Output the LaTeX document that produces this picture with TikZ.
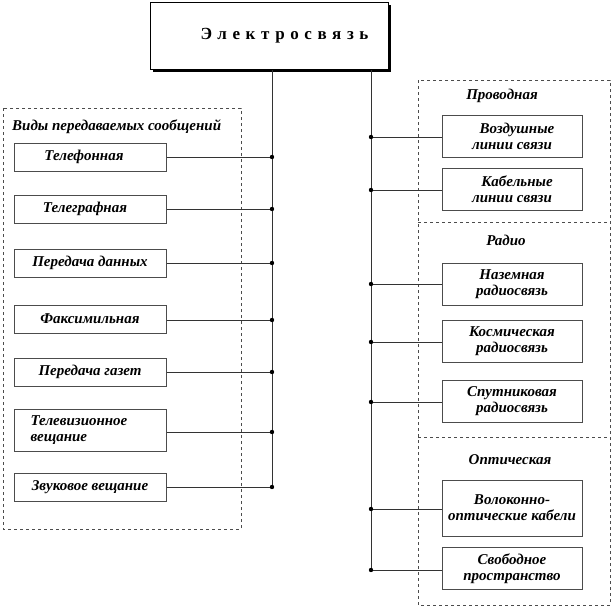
\documentclass[tikz,border=0pt]{standalone}
\usepackage{fontspec}
\setmainfont{Liberation Serif}
\begin{document}
\begin{tikzpicture}[x=1pt,y=-1pt,
  bx/.style={draw=black!70, line width=1pt, fill=white, inner sep=1pt,
    font=\bfseries\itshape\fontsize{15}{16}\selectfont, align=center},
  lbox/.style={bx, minimum width=152pt, minimum height=28pt},
  rbox/.style={bx, minimum width=140pt, minimum height=42pt},
  grp/.style={draw=black!70, dashed, line width=0.7pt},
  gtitle/.style={font=\bfseries\itshape\fontsize{15}{16}\selectfont},
  conn/.style={draw=black!80, line width=0.8pt},
  bus/.style={draw=black!80, line width=1pt},
  dot/.style={fill=black}
]
\useasboundingbox (0,0) rectangle (614,608);

% top box
\fill[black] (153,5) rectangle (391,72);
\node[draw=black, line width=1pt, fill=white, minimum width=238pt, minimum height=67pt,
  font=\bfseries\fontsize{17}{19}\selectfont] (top) at (269.5,36)
  {\hspace*{30pt}\addfontfeature{LetterSpace=33}Электросвязь};

% group frames
\draw[grp] (3,108) rectangle (241,529);
\draw[grp] (418,80) rectangle (610,605);
\draw[grp] (418,222) -- (610,222);
\draw[grp] (418,437) -- (610,437);

\node[gtitle, anchor=west, inner sep=0pt] (lt) at (12,127) {Виды передаваемых сообщений};
\node[gtitle] (t1) at (502,96) {Проводная};
\node[gtitle] (t2) at (506,240) {Радио};
\node[gtitle] (t3) at (510,460) {Оптическая};

% bus coordinates
\coordinate (lb0) at (272,70);
\coordinate (lb1) at (272,487);
\coordinate (rb0) at (371,70);
\coordinate (rb1) at (371,570);
\draw[bus] (lb0) -- (lb1);
\draw[bus] (rb0) -- (rb1);

% left boxes
\node[lbox] (a1) at (90,157) {\hspace*{-12pt}Телефонная};
\node[lbox] (a2) at (90,209) {\hspace*{-10pt}Телеграфная};
\node[lbox] (a3) at (90,263) {Передача данных};
\node[lbox] (a4) at (90,319) {Факсимильная};
\node[lbox] (a5) at (90,372) {Передача газет};
\node[lbox, minimum height=42pt, align=left] (a6) at (90,430) {Телевизионное\hspace*{22pt}\\вещание};
\node[lbox] (a7) at (90,487) {Звуковое вещание};

\foreach \i/\y in {1/157,2/209,3/263,4/320,5/372,6/432,7/487}{
  \coordinate (lc\i) at (272,\y);
  \draw[conn] (a\i.east |- lc\i) -- (lc\i);
  \fill[dot] (lc\i) circle (2.2);
}

% right boxes
\node[rbox] (b1) at (512,136) {\hspace*{10pt}Воздушные\\линии связи};
\node[rbox] (b2) at (512,189.5) {\hspace*{10pt}Кабельные\\линии связи};
\node[rbox] (b3) at (512,284) {Наземная\\радиосвязь};
\node[rbox] (b4) at (512,341.5) {Космическая\\радиосвязь};
\node[rbox] (b5) at (512,401) {Спутниковая\\радиосвязь};
\node[rbox, minimum height=56pt] (b6) at (512,508) {Волоконно-\\оптические кабели};
\node[rbox] (b7) at (512,568.5) {Свободное\\пространство};

\foreach \i/\y in {1/137,2/190,3/284,4/342,5/402,6/509,7/570}{
  \coordinate (rc\i) at (371,\y);
  \draw[conn] (rc\i) -- (b\i.west |- rc\i);
  \fill[dot] (rc\i) circle (2.2);
}
\end{tikzpicture}
\end{document}
